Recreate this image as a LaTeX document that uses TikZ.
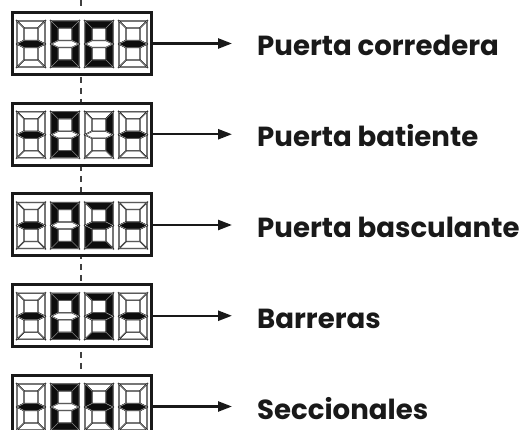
\documentclass[tikz,border=0pt]{standalone}
\usepackage{fontspec}
\setmainfont{Poppins}
\usetikzlibrary{arrows.meta}
\tikzset{
 dispbox/.style={draw=black!90, line width=3pt, fill=white, minimum width=138.5pt, minimum height=62pt, inner sep=0pt},
 seg/.style={draw=black!90, line width=0.5pt, double=gray!35, double distance=0.3pt, line join=miter},
 conn/.style={draw=black!90, line width=2.4pt, -{Triangle[length=14pt,width=10pt]}},
 lab/.style={anchor=base west, inner sep=0pt, font=\fontsize{27.6}{30}\selectfont\bfseries, text=black!90},
 guide/.style={draw=black!75, line width=1.4pt, dash pattern=on 6pt off 5pt},
}
% #1 x, #2 y (top-left), #3..#9 segments a..g (1 = lit)
\newcommand\sgdigit[9]{%
 \ifnum#3=1 \def\sgA{black!95}\else\def\sgA{white}\fi
 \ifnum#4=1 \def\sgB{black!95}\else\def\sgB{white}\fi
 \ifnum#5=1 \def\sgC{black!95}\else\def\sgC{white}\fi
 \ifnum#6=1 \def\sgD{black!95}\else\def\sgD{white}\fi
 \ifnum#7=1 \def\sgE{black!95}\else\def\sgE{white}\fi
 \ifnum#8=1 \def\sgF{black!95}\else\def\sgF{white}\fi
 \ifnum#9=1 \def\sgG{black!95}\else\def\sgG{white}\fi
 \begin{scope}[shift={(#1,#2)}]
  \path[seg, fill=\sgA] (0,0) -- (28,0) -- (21,7) -- (7,7) -- cycle;
  \path[seg, fill=\sgB] (28,0) -- (28,23) -- (21,19.5) -- (21,7) -- cycle;
  \path[seg, fill=\sgC] (28,23) -- (28,46) -- (21,39) -- (21,26.5) -- cycle;
  \path[seg, fill=\sgD] (0,46) -- (7,39) -- (21,39) -- (28,46) -- cycle;
  \path[seg, fill=\sgE] (0,23) -- (7,26.5) -- (7,39) -- (0,46) -- cycle;
  \path[seg, fill=\sgF] (0,0) -- (7,7) -- (7,19.5) -- (0,23) -- cycle;
  \path[seg, fill=\sgG] (0,23) -- (7,19.5) -- (21,19.5) -- (28,23) -- (21,26.5) -- (7,26.5) -- cycle;
 \end{scope}}
% #1 name, #2 centre y, #3 label
\newcommand\disprow[3]{%
 \node[dispbox] (box#1) at (81.75,#2) {};
 \sgdigit{17}{#2-22.5}{0}{0}{0}{0}{0}{0}{1}
 \sgdigit{51}{#2-22.5}{1}{1}{1}{1}{1}{1}{0}
 \sgdigit{119}{#2-22.5}{0}{0}{0}{0}{0}{0}{1}
 \coordinate (tip#1) at (232,#2);
 \draw[conn] (box#1.east) -- (tip#1);
 \node[lab] (lab#1) at (257,#2+12.5) {#3};
}
\begin{document}
\begin{tikzpicture}[x=1pt,y=-1pt]
 \useasboundingbox (0,0) rectangle (525,430);
 \clip (0,0) rectangle (525,430);
 \coordinate (gtop) at (81,0);
 \coordinate (gbot) at (81,430);
 \draw[guide] (gtop) -- (gbot);
 \disprow{1}{43.5}{Puerta corredera}
 \sgdigit{85}{21}{1}{1}{1}{1}{1}{1}{0}
 \disprow{2}{134.25}{Puerta batiente}
 \sgdigit{85}{111.75}{0}{1}{1}{0}{0}{0}{0}
 \disprow{3}{225}{Puerta basculante}
 \sgdigit{85}{202.5}{1}{1}{0}{1}{1}{0}{1}
 \disprow{4}{315.75}{Barreras}
 \sgdigit{85}{293.25}{1}{1}{1}{1}{0}{0}{1}
 \disprow{5}{406.5}{Seccionales}
 \sgdigit{85}{384}{0}{1}{1}{0}{0}{1}{1}
\end{tikzpicture}
\end{document}
